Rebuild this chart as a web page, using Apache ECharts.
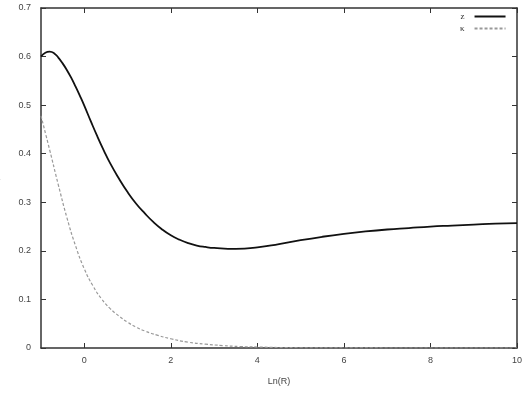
<!DOCTYPE html>
<html><head><meta charset="utf-8">
<script src="https://cdn.jsdelivr.net/npm/echarts@6/dist/echarts.min.js"></script>
<style>html,body{margin:0;padding:0;background:#fff}#c{width:531px;height:394px}</style>
</head><body><div id="c"></div>
<script>
const zX = [-1.0,-0.9,-0.8,-0.7,-0.6,-0.5,-0.4,-0.3,-0.2,-0.1,0,0.15,0.3,0.45,0.6,0.8,1.0,1.2,1.4,1.6,1.8,2.0,2.2,2.4,2.6,2.8,3.0,3.5,4.0,4.5,5.0,5.5,6.0,6.5,7.0,7.5,8.0,8.5,9.0,9.5,10.0];
const zY = [0.600,0.608,0.610,0.607,0.598,0.586,0.572,0.556,0.538,0.519,0.499,0.467,0.436,0.407,0.380,0.349,0.321,0.297,0.277,0.259,0.244,0.232,0.223,0.216,0.211,0.208,0.206,0.204,0.207,0.214,0.222,0.229,0.235,0.240,0.244,0.247,0.250,0.252,0.254,0.256,0.257];
const kX = [-1.0,-0.8,-0.6,-0.4,-0.2,0,0.2,0.4,0.6,0.8,1.0,1.2,1.4,1.7,2.0,2.4,2.8,3.2,3.6,4.0,4.5,5.0,6.0,8.0,10.0];
const kY = [0.478,0.408,0.336,0.268,0.210,0.163,0.128,0.101,0.081,0.066,0.053,0.043,0.035,0.026,0.019,0.012,0.008,0.005,0.003,0.002,0.001,0.0005,0.0002,0.0,0.0];
const xTicks = [0,2,4,6,8,10];
const names = ['z','κ'];

const font = 'Liberation Sans, Arial, sans-serif';
const axCol = '#333';
const chart = echarts.init(document.getElementById('c'));
const baseX = {type:'value',min:-1,max:10,
  axisLine:{show:true,onZero:false,lineStyle:{color:axCol,width:1.5}},
  axisTick:{show:true,inside:true,length:5,customValues:xTicks,lineStyle:{color:axCol}},
  splitLine:{show:false}};
const baseY = {type:'value',min:0,max:0.7,interval:0.1,
  axisLine:{show:true,onZero:false,lineStyle:{color:axCol,width:1.5}},
  axisTick:{show:true,inside:true,length:5,lineStyle:{color:axCol}},
  splitLine:{show:false}};
chart.setOption({
  animation:false,
  grid:{left:41,right:14,top:8,bottom:46,containLabel:false,outerBoundsMode:'none'},
  xAxis:[
    Object.assign({},baseX,{position:'bottom',name:'Ln(R)',nameLocation:'middle',nameGap:29,
      nameTextStyle:{fontFamily:font,fontSize:9,color:'#444'},
      axisLabel:{show:true,customValues:xTicks,fontFamily:font,fontSize:9,color:'#444',margin:8}}),
    Object.assign({},baseX,{position:'top',axisLabel:{show:false}})
  ],
  yAxis:[
    Object.assign({},baseY,{position:'left',name:'z, κ',nameLocation:'middle',nameGap:40,
      nameTextStyle:{fontFamily:font,fontSize:9,color:'#444'},
      axisLabel:{show:true,fontFamily:font,fontSize:9,color:'#444',margin:10,
        formatter:v=>String(Math.round(v*10)/10)}}),
    Object.assign({},baseY,{position:'right',axisLabel:{show:false}})
  ],
  legend:{left:455,top:7,orient:'vertical',align:'right',itemWidth:31,itemHeight:8,itemGap:3,
    itemStyle:{opacity:0},
    textStyle:{fontFamily:'Liberation Serif, serif',fontSize:9,color:'#333',padding:[0,5,0,0]},
    data:[names[0],names[1]]},
  series:[
    {name:names[0],type:'line',smooth:0.5,showSymbol:false,symbol:'none',
     data:zX.map((x,i)=>[x,zY[i]]),lineStyle:{color:'#111',width:1.8},itemStyle:{color:'#111'}},
    {name:names[1],type:'line',smooth:0.5,showSymbol:false,symbol:'none',
     data:kX.map((x,i)=>[x,kY[i]]),lineStyle:{color:'#999',width:1.2,type:[3,2]},itemStyle:{color:'#999'}}
  ]
});
</script></body></html>
